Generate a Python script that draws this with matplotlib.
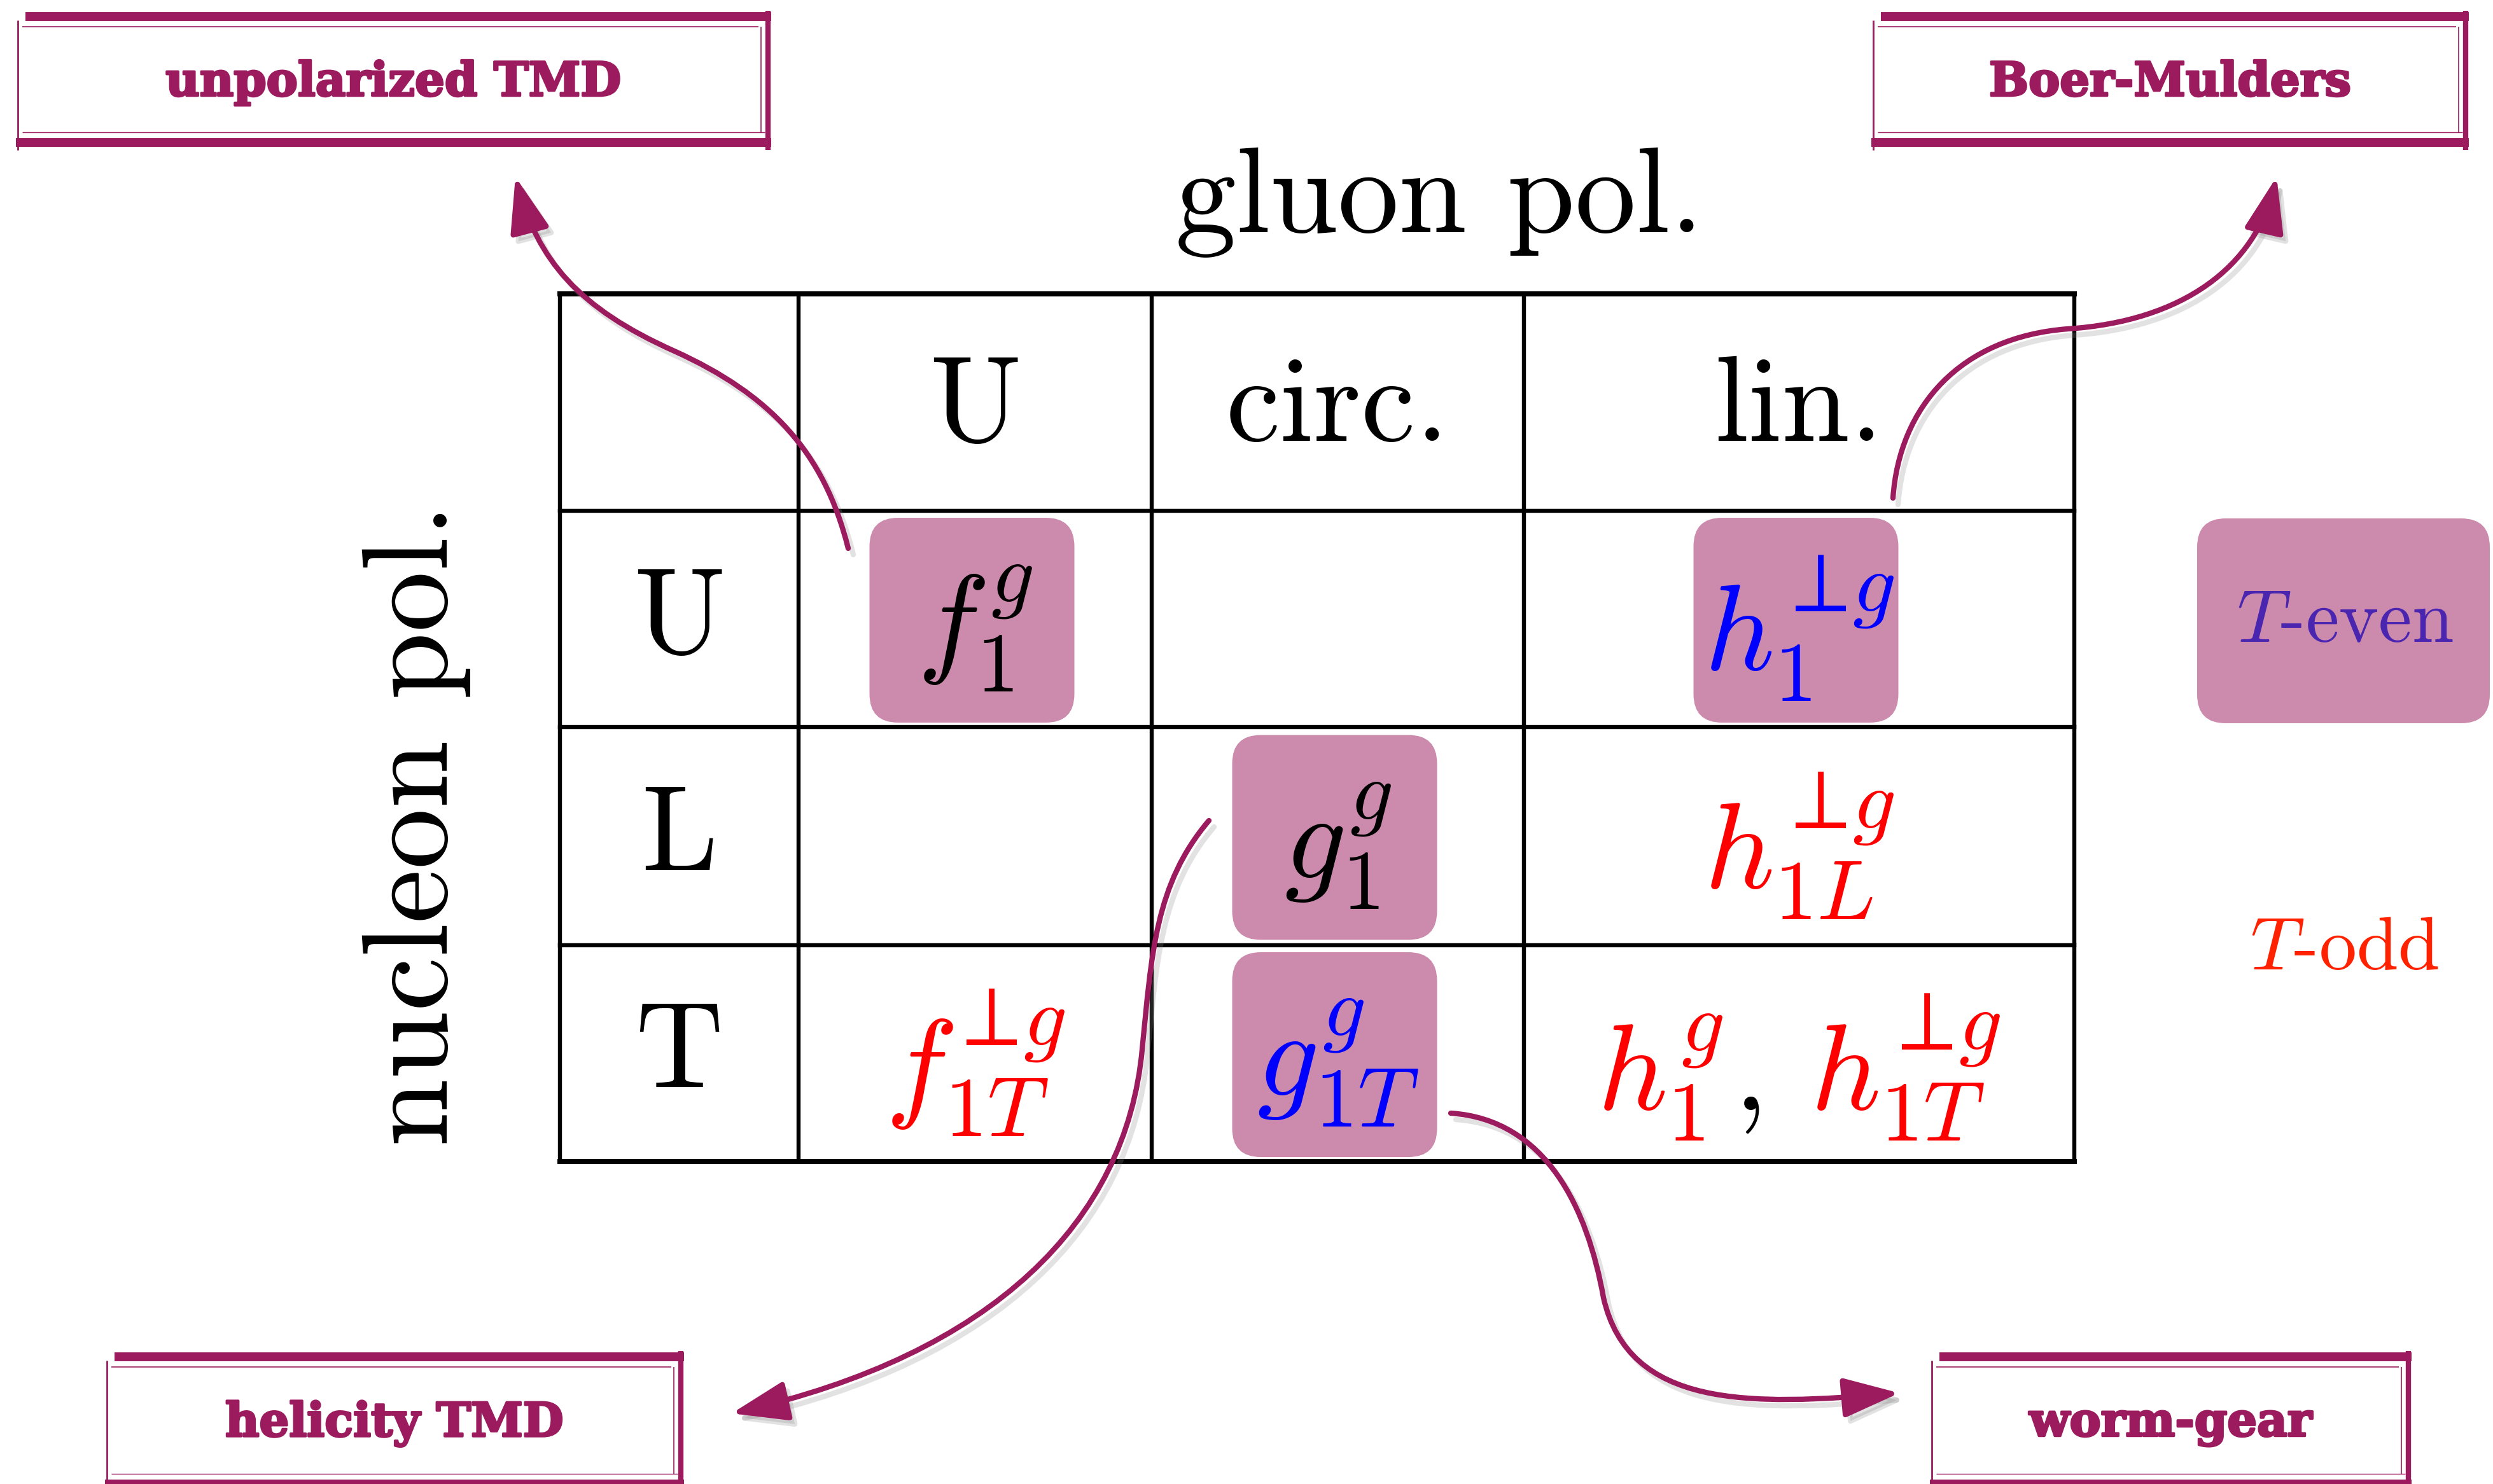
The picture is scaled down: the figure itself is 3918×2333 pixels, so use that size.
import numpy as np
import matplotlib.pyplot as plt
from matplotlib.patches import FancyBboxPatch, FancyArrowPatch, ArrowStyle
from matplotlib.path import Path
import matplotlib.patheffects as pe

plt.rcParams['mathtext.fontset'] = 'cm'
plt.rcParams['axes.unicode_minus'] = False

# ---- table content ----
col_labels = ['U', 'circ.', 'lin.']
row_labels = ['U', 'L', 'T']
col_title = 'gluon pol.'
row_title = 'nucleon pol.'

PG = r'\!\perp\!g'   # perp-g superscript without relation spacing
cells = [
    [r'$f_1^{g}$', '', r'$h_1^{%s}$' % PG],
    ['', r'$g_1^{g}$', r'$h_{1L}^{%s}$' % PG],
    [r'$f_{1T}^{%s}$' % PG, r'$g_{1T}^{g}$', None],   # last one drawn in pieces
]
cell_colors = [
    ['black', None, 'blue'],
    [None, 'black', 'red'],
    ['red', 'blue', 'red'],
]
# cells with T-even (shaded) background
t_even = [(0, 0), (0, 2), (1, 1), (2, 1)]
split_cell = [r'$h_1^{g}$', r'$,$', r'$h_{1T}^{%s}$' % PG]

legend_even = r'$T$-even'
legend_odd = r'$T$-odd'

callouts = ['unpolarized TMD', 'Boer-Mulders', 'helicity TMD', 'worm-gear']

# ---- colours / layout ----
PINK = '#cc8aad'
MAROON = '#9b1b5e'
W, H = 3918, 2333
col_edges = [880, 1255, 1810, 2395, 3260]
row_edges = [462, 803, 1143, 1486, 1826]

fig = plt.figure(figsize=(W / 100, H / 100), dpi=100)
ax = fig.add_axes([0, 0, 1, 1])
ax.set_xlim(0, W)
ax.set_ylim(H, 0)
ax.axis('off')

# grid lines
for x in col_edges:
    ax.plot([x, x], [row_edges[0], row_edges[-1]], color='black', lw=4.6,
            solid_capstyle='projecting', zorder=3)
for i, y in enumerate(row_edges):
    lw = 5.8 if i in (0, len(row_edges) - 1) else 4.6
    ax.plot([col_edges[0], col_edges[-1]], [y, y], color='black', lw=lw,
            solid_capstyle='projecting', zorder=3)

cx = [(col_edges[i] + col_edges[i + 1]) / 2 for i in range(len(col_edges) - 1)]
cy = [(row_edges[i] + row_edges[i + 1]) / 2 for i in range(len(row_edges) - 1)]

big = dict(family='cmr10', fontsize=138, color='black', ha='center', va='center')
ax.text(2262, 318, col_title, **big)
ax.text(655, 1297, row_title, rotation=90, **big)
for j, lab in enumerate(col_labels):
    ax.text(cx[j + 1], cy[0] + 12, lab, **big)
for i, lab in enumerate(row_labels):
    ax.text(cx[0], cy[i + 1] + 5, lab, **big)

# shaded boxes
def shade(x0, y0, x1, y1):
    ax.add_patch(FancyBboxPatch((x0, y0), x1 - x0, y1 - y0,
                                boxstyle='round,pad=0,rounding_size=45',
                                fc=PINK, ec='none', zorder=1))

box_w, box_h = 322, 322
for (r, c) in t_even:
    xc = cx[c + 1] - 5
    yc = cy[r + 1] + 2
    shade(xc - box_w / 2, yc - box_h / 2, xc + box_w / 2, yc + box_h / 2)

# cell entries
for r in range(3):
    for c in range(3):
        s = cells[r][c]
        if not s:
            continue
        ax.text(cx[c + 1], cy[r + 1] + 15, s, fontsize=138, color=cell_colors[r][c],
                ha='center', va='center', zorder=4)

# split cell (h1, h1T) : red, black comma, red
fig.canvas.draw()
rend = fig.canvas.get_renderer()
pieces = []
for k, s in enumerate(split_cell):
    col = 'black' if k == 1 else 'red'
    t = ax.text(0, 0, s, fontsize=138, color=col, ha='left', va='baseline', zorder=4)
    pieces.append(t)
widths = [p.get_window_extent(rend).width for p in pieces]
gaps = [15, 80, 0]
total = sum(widths) + sum(gaps[:2])
x = cx[3] - total / 2
base_y = 1745
for k, p in enumerate(pieces):
    p.set_position((x, base_y))
    x += widths[k] + gaps[k]

# legend
shade(3453, 815, 3913, 1137)
ax.text(3685, 980, legend_even, family='cmr10', fontsize=85, color='#4a25b0',
        ha='center', va='center', zorder=4)
ax.text(3685, 1495, legend_odd, family='cmr10', fontsize=85, color='#ff2200',
        ha='center', va='center', zorder=4)

# callout frames
def rough_frame(x0, y0, x1, y1, label):
    kw = dict(color=MAROON, solid_capstyle='butt', zorder=5)
    ax.plot([x0 + 15, x1], [y0 + 14, y0 + 14], lw=10, **kw)
    ax.plot([x0 + 10, x1 - 20], [y0 + 30, y0 + 30], lw=1.2, **kw)
    ax.plot([x0, x1], [y1 - 12, y1 - 12], lw=10, **kw)
    ax.plot([x0 + 10, x1 - 10], [y1 - 28, y1 - 28], lw=1.0, **kw)
    ax.plot([x0 + 3, x0 + 3], [y0 + 20, y1], lw=2, **kw)
    ax.plot([x1 - 5, x1 - 5], [y0 + 5, y1], lw=6, **kw)
    ax.plot([x1 - 16, x1 - 16], [y0 + 30, y1 - 28], lw=1.2, **kw)
    t = ax.text((x0 + x1) / 2, (y0 + y1) / 2 + 6, label, family='DejaVu Serif',
                weight='bold', fontsize=53, color=MAROON, ha='center', va='center', zorder=5)
    t.set_path_effects([pe.withStroke(linewidth=2.5, foreground=MAROON)])

rough_frame(25, 12, 1212, 236, callouts[0])
rough_frame(2941, 12, 3880, 236, callouts[1])
rough_frame(165, 2119, 1075, 2345, callouts[2])
rough_frame(3033, 2119, 3790, 2345, callouts[3])

# curved arrows
def curved_arrow(pts):
    codes = [Path.MOVETO] + [Path.CURVE4] * (len(pts) - 1)
    style = ArrowStyle('-|>', head_length=0.9, head_width=0.32)
    # faint drop shadow
    sh = [(px + 8, py + 10) for px, py in pts]
    ax.add_patch(FancyArrowPatch(path=Path(sh, codes), arrowstyle=style, mutation_scale=60,
                                 lw=6, color='0.55', alpha=0.25, zorder=5))
    ax.add_patch(FancyArrowPatch(path=Path(pts, codes), arrowstyle=style, mutation_scale=60,
                                 lw=6, color=MAROON, zorder=6))

curved_arrow([(1333, 862), (1295, 710), (1210, 620), (1060, 552),
              (910, 485), (845, 410), (810, 278)])
curved_arrow([(2975, 783), (2985, 640), (3080, 530), (3250, 517),
              (3430, 505), (3545, 420), (3578, 278)])
curved_arrow([(1900, 1290), (1815, 1390), (1810, 1500), (1795, 1650),
              (1770, 1920), (1560, 2130), (1150, 2222)])
curved_arrow([(2280, 1750), (2430, 1760), (2495, 1900), (2520, 2040),
              (2560, 2215), (2750, 2210), (2985, 2190)])

fig.savefig('out.png', dpi=100, facecolor='white')
